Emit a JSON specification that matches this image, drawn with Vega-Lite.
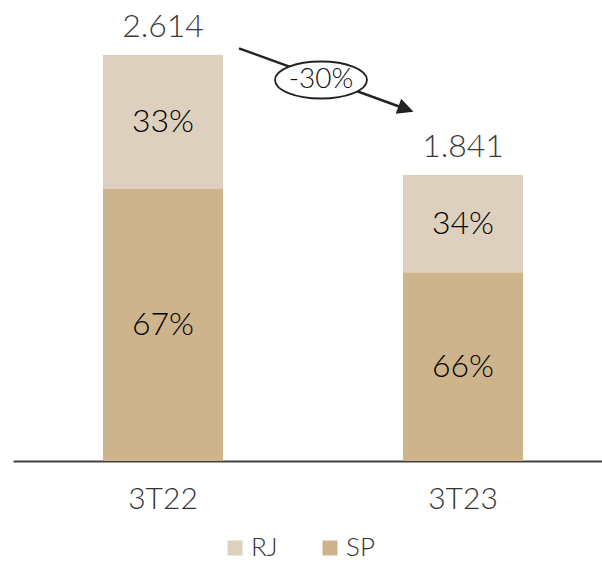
{
  "$schema": "https://vega.github.io/schema/vega-lite/v6.json",
  "width": 589,
  "height": 461,
  "autosize": {"type": "none"},
  "padding": {"left": 13, "top": 0, "right": 0, "bottom": 103},
  "config": {
    "view": {"stroke": null},
    "font": "Lato",
    "text": {"font": "Lato"}
  },
  "datasets": {
    "barras": [
      {"periodo": "3T22", "regiao": "SP", "valor": 1751, "pct": "67%", "ord": 1},
      {"periodo": "3T22", "regiao": "RJ", "valor": 863, "pct": "33%", "ord": 2},
      {"periodo": "3T23", "regiao": "SP", "valor": 1215, "pct": "66%", "ord": 1},
      {"periodo": "3T23", "regiao": "RJ", "valor": 626, "pct": "34%", "ord": 2}
    ],
    "totais": [
      {"periodo": "3T22", "total": 2614, "rotulo": "2.614"},
      {"periodo": "3T23", "total": 1841, "rotulo": "1.841"}
    ],
    "variacao": [
      {"de": "3T22", "para": "3T23", "yini": 2657, "yfim": 2266, "ymeio": 2453, "rotulo": "-30%"}
    ]
  },
  "layer": [
    {
      "data": {"name": "barras"},
      "mark": {"type": "bar"},
      "encoding": {
        "x": {
          "field": "periodo", "type": "nominal",
          "scale": {"domain": ["3T22", "3T23"], "paddingInner": 0.6, "paddingOuter": 0.2817, "align": 0.5325},
          "axis": {
            "title": null, "labelAngle": 0, "ticks": false, "domainColor": "#404040", "domainWidth": 2,
            "labelFont": "Lato", "labelFontSize": 30, "labelColor": "#333333", "labelPadding": 23, "labelFontWeight": 300
          }
        },
        "y": {
          "field": "valor", "type": "quantitative",
          "scale": {"domain": [0, 2968], "nice": false},
          "axis": null
        },
        "order": {"field": "ord", "type": "quantitative"},
        "color": {
          "field": "regiao", "type": "nominal",
          "scale": {"domain": ["RJ", "SP"], "range": ["#DDD0BF", "#CDB48C"]},
          "legend": {
            "title": null, "orient": "none", "direction": "horizontal",
            "legendX": 209, "legendY": 535, "padding": 0,
            "symbolType": "square", "symbolSize": 225, "symbolStrokeWidth": 0,
            "labelFont": "Lato", "labelFontSize": 26, "labelColor": "#333333", "labelOffset": 3,
            "columnPadding": 39, "labelFontWeight": 300
          }
        }
      }
    },
    {
      "data": {"name": "barras"},
      "transform": [
        {"stack": "valor", "groupby": ["periodo"], "sort": [{"field": "ord"}], "as": ["v0", "v1"]},
        {"calculate": "(datum.v0 + datum.v1) / 2", "as": "meio"}
      ],
      "mark": {"type": "text", "fontSize": 32, "fontWeight": 300, "color": "#000000", "baseline": "middle", "align": "center"},
      "encoding": {
        "x": {"field": "periodo", "type": "nominal"},
        "y": {"field": "meio", "type": "quantitative"},
        "text": {"field": "pct"}
      }
    },
    {
      "data": {"name": "totais"},
      "mark": {"type": "text", "fontSize": 32, "fontWeight": 300, "color": "#3a3a3a", "baseline": "alphabetic", "align": "center", "dy": -18},
      "encoding": {
        "x": {"field": "periodo", "type": "nominal"},
        "y": {"field": "total", "type": "quantitative"},
        "text": {"field": "rotulo"}
      }
    },
    {
      "data": {"name": "variacao"},
      "mark": {"type": "rule", "xOffset": 76, "x2Offset": -57, "strokeWidth": 2.5, "color": "#222222"},
      "encoding": {
        "x": {"field": "de", "type": "nominal"},
        "x2": {"field": "para"},
        "y": {"field": "yini", "type": "quantitative"},
        "y2": {"field": "yfim"}
      }
    },
    {
      "data": {"name": "variacao"},
      "mark": {"type": "point", "shape": "M -1 -1 L 1 0 L -1 1 Z", "size": 256, "angle": 19.9, "filled": true, "color": "#222222", "opacity": 1, "xOffset": -57},
      "encoding": {
        "x": {"field": "para", "type": "nominal"},
        "y": {"field": "yfim", "type": "quantitative"}
      }
    },
    {
      "data": {"name": "variacao"},
      "mark": {"type": "point", "shape": "M -1 0 A 1 0.402 0 1 0 1 0 A 1 0.402 0 1 0 -1 0 Z", "size": 8464, "filled": false, "fill": "#ffffff", "fillOpacity": 1, "stroke": "#222222", "strokeWidth": 1.8, "opacity": 1, "xOffset": 158},
      "encoding": {
        "x": {"field": "de", "type": "nominal"},
        "y": {"field": "ymeio", "type": "quantitative"}
      }
    },
    {
      "data": {"name": "variacao"},
      "mark": {"type": "text", "fontSize": 28, "fontWeight": 300, "color": "#111111", "baseline": "middle", "align": "center", "xOffset": 158},
      "encoding": {
        "x": {"field": "de", "type": "nominal"},
        "y": {"field": "ymeio", "type": "quantitative"},
        "text": {"field": "rotulo"}
      }
    }
  ]
}
